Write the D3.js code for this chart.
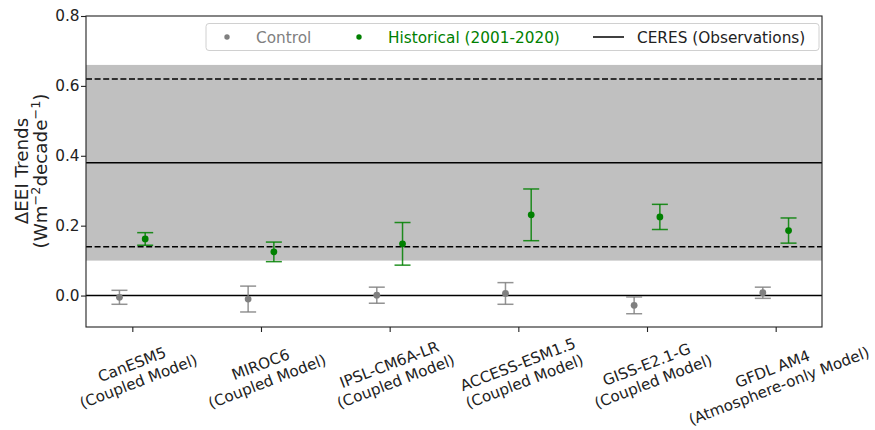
<!DOCTYPE html>
<html>
<head>
<meta charset="utf-8">
<script src="https://cdn.jsdelivr.net/npm/d3@7"></script>
<style>
  body { margin: 0; background: #fff; }
  svg { font-family: "DejaVu Sans", sans-serif; display: block; }
</style>
</head>
<body>
<div id="viz"></div>
<script>

// Models (two-line tick labels)
var MODEL_NAMES = ["CanESM5", "MIROC6", "IPSL-CM6A-LR", "ACCESS-ESM1.5", "GISS-E2.1-G", "GFDL AM4"];
var MODEL_TYPES = ["(Coupled Model)", "(Coupled Model)", "(Coupled Model)", "(Coupled Model)", "(Coupled Model)", "(Atmosphere-only Model)"];

// Trends, W m-2 decade-1
var CONTROL_MEAN = [-0.005, -0.010, 0.001, 0.006, -0.028, 0.008];
var CONTROL_ERR  = [0.020, 0.037, 0.023, 0.031, 0.024, 0.016];
var HIST_MEAN    = [0.162, 0.125, 0.148, 0.231, 0.225, 0.186];
var HIST_ERR     = [0.018, 0.028, 0.061, 0.074, 0.036, 0.036];

// CERES observed trend, its range (dashed) and shaded band
var CERES = [0.38];
var CERES_RANGE = [0.14, 0.62];
var CERES_BAND = [0.10, 0.66];

var Y_TICKS = [0.0, 0.2, 0.4, 0.6, 0.8];

var SVG_WIDTH = 875, SVG_HEIGHT = 430;
var LEFT = 86, RIGHT = 822, TOP = 16, BOTTOM = 327;
var OFFSET = 0.1;

var svg = d3.select("#viz").append("svg")
    .attr("width", SVG_WIDTH)
    .attr("height", SVG_HEIGHT);

var x = d3.scaleLinear().domain([-0.36, 5.36]).range([LEFT, RIGHT]);
var y = d3.scaleLinear().domain([-0.09, 0.8]).range([BOTTOM, TOP]);

// Shaded band
svg.append("rect")
    .attr("x", LEFT)
    .attr("width", RIGHT - LEFT)
    .attr("y", y(CERES_BAND[1]))
    .attr("height", y(CERES_BAND[0]) - y(CERES_BAND[1]))
    .attr("fill", "#c0c0c0");

// Dashed range lines
svg.selectAll("line.range")
    .data(CERES_RANGE)
  .enter().append("line")
    .attr("class", "range")
    .attr("x1", LEFT).attr("x2", RIGHT)
    .attr("y1", function(d){ return y(d); })
    .attr("y2", function(d){ return y(d); })
    .attr("stroke", "#000")
    .attr("stroke-width", 1.5)
    .attr("stroke-dasharray", "6,2.6");

// CERES line and zero line
svg.selectAll("line.solid")
    .data(CERES.concat([0]))
  .enter().append("line")
    .attr("class", "solid")
    .attr("x1", LEFT).attr("x2", RIGHT)
    .attr("y1", function(d){ return y(d); })
    .attr("y2", function(d){ return y(d); })
    .attr("stroke", "#000")
    .attr("stroke-width", 1.5);

// Error bars
function drawSeries(means, errs, off, color){
	var g = svg.selectAll(null)
		.data(means.map(function(m, i){ return {i: i, m: m, e: errs[i]}; }))
	  .enter().append("g")
		.attr("stroke", color)
		.attr("stroke-width", 1.5)
		.attr("stroke-opacity", 0.85);
	g.append("line")
		.attr("x1", function(d){ return x(d.i + off); })
		.attr("x2", function(d){ return x(d.i + off); })
		.attr("y1", function(d){ return y(d.m - d.e); })
		.attr("y2", function(d){ return y(d.m + d.e); });
	[-1, 1].forEach(function(s){
		g.append("line")
			.attr("x1", function(d){ return x(d.i + off) - 8; })
			.attr("x2", function(d){ return x(d.i + off) + 8; })
			.attr("y1", function(d){ return y(d.m + s * d.e); })
			.attr("y2", function(d){ return y(d.m + s * d.e); });
	});
	g.append("circle")
		.attr("cx", function(d){ return x(d.i + off); })
		.attr("cy", function(d){ return y(d.m); })
		.attr("r", 3.4)
		.attr("fill", color)
		.attr("stroke", "none");
}
drawSeries(CONTROL_MEAN, CONTROL_ERR, -OFFSET, "#808080");
drawSeries(HIST_MEAN, HIST_ERR, OFFSET, "#008000");

// Frame
svg.append("rect")
    .attr("x", LEFT).attr("y", TOP)
    .attr("width", RIGHT - LEFT).attr("height", BOTTOM - TOP)
    .attr("fill", "none")
    .attr("stroke", "#222")
    .attr("stroke-width", 1.1);

// Y axis
var yAxis = svg.append("g")
    .attr("transform", "translate(" + LEFT + ",0)")
    .call(d3.axisLeft(y).tickValues(Y_TICKS).tickFormat(d3.format(".1f"))
        .tickSize(5).tickSizeOuter(0).tickPadding(1.5));
yAxis.select(".domain").remove();
yAxis.selectAll("text").attr("font-size", "15.3px").attr("fill", "#222")
    .attr("font-family", "DejaVu Sans");
yAxis.selectAll("line").attr("stroke", "#222").attr("stroke-width", 1.1);

// X axis ticks
var xAxis = svg.append("g")
    .attr("transform", "translate(0," + BOTTOM + ")")
    .call(d3.axisBottom(x).tickValues(d3.range(MODEL_NAMES.length))
        .tickFormat("").tickSize(5).tickSizeOuter(0));
xAxis.select(".domain").remove();
xAxis.selectAll("line").attr("stroke", "#222").attr("stroke-width", 1.1);

// X tick labels, rotated 20 degrees, bbox centered under each tick
MODEL_NAMES.forEach(function(name, i){
	var outer = svg.append("g");
	var inner = outer.append("g").attr("transform", "rotate(-21)");
	var t = inner.append("text")
		.attr("text-anchor", "middle")
		.attr("font-size", "15.2px")
		.attr("fill", "#222");
	t.append("tspan").attr("x", 0).attr("y", 0).text(name);
	t.append("tspan").attr("x", 0).attr("dy", "1.2em").text(MODEL_TYPES[i]);
	var r = inner.node().getBoundingClientRect();
	var dx = x(i) + 3 - (r.left + r.right) / 2;
	var dy = 334 - r.top;
	// keep the widest label inside the picture
	if (r.right + dx > SVG_WIDTH - 3) dx = SVG_WIDTH - 3 - r.right;
	if (r.bottom + dy > SVG_HEIGHT - 1) dy = SVG_HEIGHT - 1 - r.bottom;
	outer.attr("transform", "translate(" + dx + "," + dy + ")");
});

// Y label
var ylab = svg.append("g").attr("font-size", "18.3px").attr("fill", "#222");
ylab.append("text")
    .attr("transform", "translate(28,171) rotate(-90)")
    .attr("text-anchor", "middle")
    .text("\u0394EEI Trends");
var yl2 = ylab.append("text")
    .attr("transform", "translate(47,171) rotate(-90)")
    .attr("text-anchor", "middle");
yl2.append("tspan").text("(Wm");
yl2.append("tspan").attr("dy", -7).attr("font-size", "12.8px").text("\u22122");
yl2.append("tspan").attr("dy", 7).text("decade");
yl2.append("tspan").attr("dy", -7).attr("font-size", "12.8px").text("\u22121");
yl2.append("tspan").attr("dy", 7).text(")");

// Legend
var leg = svg.append("g");
leg.append("rect")
    .attr("x", 206).attr("y", 23.5)
    .attr("width", 613).attr("height", 27)
    .attr("rx", 3)
    .attr("fill", "#fff").attr("fill-opacity", 0.8)
    .attr("stroke", "#d0d0d0").attr("stroke-width", 1);
leg.append("circle").attr("cx", 227).attr("cy", 37).attr("r", 2.7).attr("fill", "#808080");
leg.append("text").attr("x", 256).attr("y", 42.5).attr("font-size", "15.3px")
    .attr("fill", "#808080").text("Control");
leg.append("circle").attr("cx", 359).attr("cy", 37).attr("r", 2.7).attr("fill", "#008000");
leg.append("text").attr("x", 388).attr("y", 42.5).attr("font-size", "15.3px")
    .attr("fill", "#008000").text("Historical (2001-2020)");
leg.append("line").attr("x1", 593).attr("x2", 624).attr("y1", 37).attr("y2", 37)
    .attr("stroke", "#000").attr("stroke-width", 1.5);
leg.append("text").attr("x", 637).attr("y", 42.5).attr("font-size", "15.3px")
    .attr("fill", "#222").text("CERES (Observations)");

</script>
</body>
</html>
